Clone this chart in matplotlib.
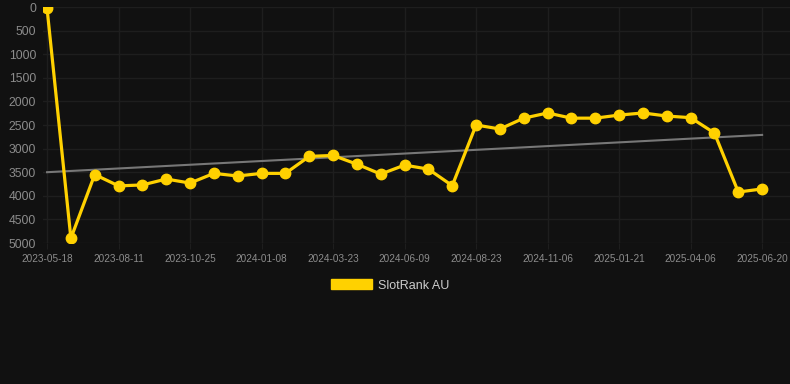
import numpy as np
import matplotlib.pyplot as plt
from matplotlib.patches import Patch

# ranks, one point per sample (evenly spaced)
rank_au = [30, 4900, 3550, 3790, 3770, 3645, 3730, 3525, 3580, 3525,
           3525, 3165, 3145, 3330, 3540, 3350, 3435, 3785, 2500, 2585,
           2355, 2245, 2355, 2355, 2290, 2245, 2310, 2345, 2670, 3920,
           3855]
trend_ends = [3500, 2710]
tick_labels = ["2023-05-18", "2023-08-11", "2023-10-25", "2024-01-08",
               "2024-03-23", "2024-06-09", "2024-08-23", "2024-11-06",
               "2025-01-21", "2025-04-06", "2025-06-20"]
y_ticks = [0, 500, 1000, 1500, 2000, 2500, 3000, 3500, 4000, 4500, 5000]

bg = "#111111"
gold = "#FFD100"

plt.rcParams["font.family"] = ["Liberation Sans", "DejaVu Sans"]

fig = plt.figure(figsize=(7.9, 3.84), dpi=100, facecolor=bg)
ax = fig.add_axes([43 / 790, 1 - 243 / 384, (790 - 43) / 790, (243 - 7) / 384])
ax.set_facecolor(bg)

x = np.arange(len(rank_au))
ax.set_xlim(-0.17, 31.17)
ax.set_ylim(5000, 0)

ax.plot([x[0], x[-1]], trend_ends, color="#777777", lw=1.5, zorder=2)
ax.plot(x, rank_au, color=gold, lw=2.3, marker="o", ms=7.5, zorder=3)

ax.set_yticks(y_ticks)
ax.set_xticks(x[::3])
ax.set_xticklabels(tick_labels)
ax.grid(True, color="#1e1e1e", lw=1)
ax.tick_params(axis="y", colors="#8c8c8c", labelsize=8.7, length=0, pad=5)
ax.tick_params(axis="x", colors="#8c8c8c", labelsize=7.2, length=4, pad=4)
ax.tick_params(axis="x", color="#1e1e1e")
for s in ax.spines.values():
    s.set_visible(False)

fig.legend(handles=[Patch(color=gold)], labels=["SlotRank AU"],
           loc="center", bbox_to_anchor=(390 / 790, 1 - 285.5 / 384),
           frameon=False, labelcolor="#cccccc", fontsize=9,
           handlelength=3.3, handleheight=0.85, handletextpad=0.5)

fig.savefig("out.png", dpi=100, facecolor=bg)
